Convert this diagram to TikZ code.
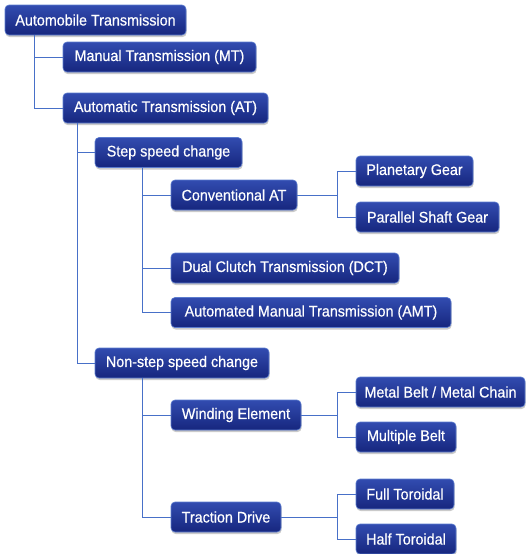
\documentclass[tikz,border=0pt]{standalone}
\usepackage{fontspec}
\setmainfont{Liberation Sans}[FakeStretch=0.93,FakeBold=0.5]
\usetikzlibrary{shadows}
\definecolor{boxtop}{RGB}{50,76,176}
\definecolor{boxbot}{RGB}{22,38,126}
\definecolor{boxedge}{RGB}{92,124,206}
\definecolor{conncol}{RGB}{72,112,200}
\tikzset{
  box/.style={rectangle, rounded corners=4pt, draw=boxedge, line width=0.6pt,
    top color=boxtop, bottom color=boxbot, text=white,
    minimum height=30pt, inner sep=0pt, align=center,
    font=\fontsize{15.4}{18}\selectfont,
    drop shadow={shadow xshift=0.6pt, shadow yshift=-2pt, opacity=0.35, fill=black!60}},
  conn/.style={draw=conncol, line width=1pt}
}
\begin{document}
\begin{tikzpicture}[x=1pt,y=-1pt]
\useasboundingbox (0,0) rectangle (527,554);
\node[box, minimum width=181pt] (a)   at (95.5,20)  {Automobile Transmission};
\node[box, minimum width=193pt] (mt)  at (159.5,57) {Manual Transmission (MT)};
\node[box, minimum width=205pt] (at)  at (165.5,108) {Automatic Transmission (AT)};
\node[box, minimum width=147pt] (ssc) at (168.5,152.5) {Step speed change};
\node[box, minimum width=126pt] (cat) at (234,195) {Conventional AT};
\node[box, minimum width=117pt] (pg)  at (414.5,171) {Planetary Gear};
\node[box, minimum width=143pt] (psg) at (427.5,217) {Parallel Shaft Gear};
\node[box, minimum width=228pt] (dct) at (285,268) {Dual Clutch Transmission (DCT)};
\node[box, minimum width=280pt] (amt) at (311,312.5) {Automated Manual Transmission (AMT)};
\node[box, minimum width=174pt] (nsc) at (182,363) {Non-step speed change};
\node[box, minimum width=130pt] (we)  at (236,415) {Winding Element};
\node[box, minimum width=169pt] (mb)  at (440.5,392) {Metal Belt / Metal Chain};
\node[box, minimum width=100pt] (mpb) at (406,437) {Multiple Belt};
\node[box, minimum width=110pt] (td)  at (226,517) {Traction Drive};
\node[box, minimum width=98pt]  (ft)  at (405,494) {Full Toroidal};
\node[box, minimum width=100pt] (ht)  at (406,539) {Half Toroidal};
% left buses
\draw[conn] ([xshift=30pt]a.south west) |- (mt.west);
\draw[conn] ([xshift=30pt]a.south west) |- (at.west);
\draw[conn] ([xshift=15pt]at.south west) |- (ssc.west);
\draw[conn] ([xshift=15pt]at.south west) |- (nsc.west);
\draw[conn] ([xshift=48pt]ssc.south west) |- (cat.west);
\draw[conn] ([xshift=48pt]ssc.south west) |- (dct.west);
\draw[conn] ([xshift=48pt]ssc.south west) |- (amt.west);
\draw[conn] ([xshift=48pt]nsc.south west) |- (we.west);
\draw[conn] ([xshift=48pt]nsc.south west) |- (td.west);
% right buses
\coordinate (b1) at ([xshift=-18pt]pg.west |- cat.east);
\draw[conn] (cat.east) -- (b1) (b1) |- (pg.west) (b1) |- (psg.west);
\coordinate (b2) at ([xshift=-18pt]mb.west |- we.east);
\draw[conn] (we.east) -- (b2) (b2) |- (mb.west) (b2) |- (mpb.west);
\coordinate (b3) at ([xshift=-18pt]ft.west |- td.east);
\draw[conn] (td.east) -- (b3) (b3) |- (ft.west) (b3) |- (ht.west);
\end{tikzpicture}
\end{document}
